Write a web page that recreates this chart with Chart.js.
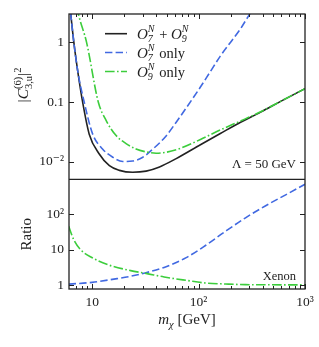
<!DOCTYPE html>
<html>
<head>
<meta charset="utf-8">
<script src="https://cdn.jsdelivr.net/npm/chart.js@4.4.1/dist/chart.umd.min.js"></script>
<style>
  html, body { margin: 0; padding: 0; background: #fff; }
  #wrap { width: 319px; height: 347px; }
</style>
</head>
<body>
<div id="wrap"><canvas id="chart" width="319" height="347"></canvas></div>
<script>
// |C_{3,u}^{(6)}|^2 versus dark matter mass, Lambda = 50 GeV (upper panel)
const massCombined = [6.0, 6.3, 6.72, 7.33, 8.12, 9.37, 11.6, 14.5, 18.0, 24.0, 32.1, 42.9, 61.6, 104, 160, 248, 383, 590, 1000];
const coefCombined = [7.1, 2.88, 1.0, 0.316, 0.1, 0.0288, 0.0135, 0.0085, 0.0071, 0.0066, 0.0069, 0.0081, 0.0112, 0.0191, 0.0295, 0.0457, 0.0676, 0.1023, 0.1675];

const massO7 = [6.0, 6.3, 6.72, 7.33, 8.4, 10.1, 12.5, 15.6, 19.4, 24.0, 29.9, 37.2, 49.5, 61.6, 76.5, 104, 129, 160, 199, 248, 296, 400, 1000];
const coefO7 = [7.1, 2.88, 1.0, 0.32, 0.1, 0.0288, 0.0162, 0.0118, 0.0100, 0.0102, 0.0118, 0.0162, 0.0269, 0.0457, 0.0794, 0.178, 0.324, 0.589, 1.0, 1.70, 2.82, 6.3, 100];

const massO9 = [6.0, 6.5, 7.0, 7.45, 8.85, 11.4, 13.5, 16.7, 20.8, 25.8, 32.1, 39.9, 49.5, 67.1, 104, 160, 248, 383, 590, 1000];
const coefO9 = [25, 8.7, 4.8, 2.88, 1.0, 0.1, 0.049, 0.0275, 0.020, 0.0162, 0.0145, 0.0138, 0.0143, 0.0166, 0.0234, 0.0339, 0.0479, 0.0684, 0.1023, 0.1675];

// Ratio panel (Xenon)
const massRatioO7 = [6.0, 10, 16, 23, 32, 47.4, 76.5, 116, 179, 276, 427, 658, 1000];
const ratioO7 = [1.07, 1.2, 1.48, 1.78, 2.25, 3.16, 5.96, 13.1, 32.9, 78.9, 173, 350, 692];

const massRatioO9 = [6.0, 6.71, 7.78, 10, 13.9, 23, 32, 47.4, 78.7, 116, 179, 276, 1000];
const ratioO9 = [46, 19, 10, 5.9, 3.8, 2.57, 2.15, 1.7, 1.35, 1.15, 1.08, 1.035, 1.02];

// ticks
const xTickValues = [10, 100, 1000];
const xTickLabels = ['10', '10²', '10³'];
const topTickValues = [0.01, 0.1, 1];
const topTickLabels = ['10⁻²', '0.1', '1'];
const ratioTickValues = [1, 10, 100];
const ratioTickLabels = ['1', '10', '10²'];

const INK = '#222';
const BLUE = '#4169e1';
const GREEN = '#3ccd3c';
const SERIF = '"Liberation Serif", "DejaVu Serif", serif';

function points(ms, vs) {
    return ms.map((m, i) => ({ x: m, y: vs[i] }));
}

function tickLabel(values, labels) {
    return function(value) {
        const i = values.indexOf(value);
        return i >= 0 ? labels[i] : '';
    };
}

// draw a run of text pieces; pieces with sup/sub are stacked at the same x
function drawRun(ctx, items, x, y, dry) {
    let cx = x;
    for (const it of items) {
        if (it.sup !== undefined || it.sub !== undefined) {
            ctx.font = it.f;
            let w = 0;
            if (it.sup) {
                w = Math.max(w, ctx.measureText(it.sup).width);
                if (!dry) ctx.fillText(it.sup, cx, y - it.up);
            }
            if (it.sub) {
                w = Math.max(w, ctx.measureText(it.sub).width);
                if (!dry) ctx.fillText(it.sub, cx, y + it.down);
            }
            cx += w + (it.after || 0);
        } else {
            ctx.font = it.f;
            if (!dry) ctx.fillText(it.t, cx, y);
            cx += ctx.measureText(it.t).width;
        }
    }
    return cx - x;
}

const framePlugin = {
    id: 'frame',
    afterDatasetsDraw(chart) {
        const ctx = chart.ctx;
        const a = chart.chartArea;
        const xs = chart.scales.x, yt = chart.scales.yTop, yb = chart.scales.yBot;
        ctx.save();
        ctx.strokeStyle = INK;
        ctx.lineWidth = 1;
        ctx.beginPath();
        for (let d = 1; d <= 1000; d *= 10) {
            for (let k = 1; k < 10; k++) {
                const v = d * k;
                if (v < xs.min || v > xs.max) continue;
                const px = Math.round(xs.getPixelForValue(v)) + 0.5;
                const len = k === 1 ? 5 : 3;
                ctx.moveTo(px, a.bottom); ctx.lineTo(px, a.bottom - len);
                ctx.moveTo(px, a.top); ctx.lineTo(px, a.top + len);
            }
        }
        for (const v of topTickValues) {
            const py = Math.round(yt.getPixelForValue(v)) + 0.5;
            ctx.moveTo(a.left, py); ctx.lineTo(a.left + 5, py);
            ctx.moveTo(a.right, py); ctx.lineTo(a.right - 5, py);
        }
        for (const v of ratioTickValues) {
            const py = Math.round(yb.getPixelForValue(v)) + 0.5;
            ctx.moveTo(a.left, py); ctx.lineTo(a.left + 5, py);
            ctx.moveTo(a.right, py); ctx.lineTo(a.right - 5, py);
        }
        ctx.stroke();

        ctx.lineWidth = 1.3;
        ctx.strokeRect(a.left, a.top, a.right - a.left, a.bottom - a.top);
        ctx.beginPath();
        ctx.moveTo(a.left, yt.bottom);
        ctx.lineTo(a.right, yt.bottom);
        ctx.stroke();
        ctx.restore();
    }
};

const textPlugin = {
    id: 'texts',
    afterDraw(chart) {
        const ctx = chart.ctx;
        const a = chart.chartArea;
        const yt = chart.scales.yTop, yb = chart.scales.yBot;
        const big = 'italic 15px ' + SERIF;
        const rom = '14.5px ' + SERIF;
        const scr = 'italic 10px ' + SERIF;
        const scrRom = '10.5px ' + SERIF;
        ctx.save();
        ctx.fillStyle = INK;
        ctx.textBaseline = 'alphabetic';
        ctx.textAlign = 'left';

        // legend
        const rows = [
            { color: INK, dash: [], y: 33.7, items: [
                { t: 'O', f: big }, { sup: 'N', sub: '7', f: scr, up: 6.5, down: 3, after: 1 },
                { t: ' + ', f: rom },
                { t: 'O', f: big }, { sup: 'N', sub: '9', f: scr, up: 6.5, down: 3 } ] },
            { color: BLUE, dash: [7.4, 3.2], y: 52.5, items: [
                { t: 'O', f: big }, { sup: 'N', sub: '7', f: scr, up: 6.5, down: 3, after: 1 },
                { t: ' only', f: rom } ] },
            { color: GREEN, dash: [9.6, 2.4, 1.6, 2.4], y: 71.5, items: [
                { t: 'O', f: big }, { sup: 'N', sub: '9', f: scr, up: 6.5, down: 3, after: 1 },
                { t: ' only', f: rom } ] }
        ];
        for (const r of rows) {
            ctx.save();
            ctx.strokeStyle = r.color;
            ctx.lineWidth = 1.6;
            ctx.setLineDash(r.dash);
            ctx.beginPath();
            ctx.moveTo(105, r.y);
            ctx.lineTo(127, r.y);
            ctx.stroke();
            ctx.restore();
            drawRun(ctx, r.items, 137, r.y + 5);
        }

        // annotations
        ctx.textAlign = 'right';
        ctx.font = '13px ' + SERIF;
        ctx.fillText('Λ = 50 GeV', a.right - 9, yt.bottom - 11.5);
        ctx.font = '12.5px ' + SERIF;
        ctx.fillText('Xenon', a.right - 9, a.bottom - 9.5);
        ctx.textAlign = 'left';

        // x title
        const xItems = [
            { t: 'm', f: 'italic 15px ' + SERIF },
            { sub: 'χ', f: 'italic 10.5px ' + SERIF, down: 3.5 },
            { t: ' [GeV]', f: '15px ' + SERIF }
        ];
        const xw = drawRun(ctx, xItems, 0, 0, true);
        drawRun(ctx, xItems, (a.left + a.right) / 2 - xw / 2, 324);

        // y title, upper panel
        const yItems = [
            { t: '|', f: '15.5px ' + SERIF },
            { t: 'C', f: 'italic 15.5px ' + SERIF },
            { sup: '(6)', sub: '3,u', f: scrRom, up: 7.5, down: 4 },
            { t: '|', f: '15.5px ' + SERIF },
            { sup: '2', f: scrRom, up: 7.5 }
        ];
        const yw = drawRun(ctx, yItems, 0, 0, true);
        ctx.save();
        ctx.translate(28, 85);
        ctx.rotate(-Math.PI / 2);
        drawRun(ctx, yItems, -yw / 2, 0);
        ctx.restore();

        // y title, ratio panel
        ctx.save();
        ctx.font = '15px ' + SERIF;
        ctx.translate(31, (yb.top + yb.bottom) / 2);
        ctx.rotate(-Math.PI / 2);
        ctx.textAlign = 'center';
        ctx.fillText('Ratio', 0, 0);
        ctx.restore();

        ctx.restore();
    }
};

const tickFont = { family: SERIF, size: 13.5 };

const chartConfig = {
    type: 'line',
    data: {
        datasets: [
            { label: 'O9 only', data: points(massO9, coefO9), yAxisID: 'yTop',
              borderColor: GREEN, borderWidth: 1.6, borderDash: [9.6, 2.4, 1.6, 2.4] },
            { label: 'O7 only', data: points(massO7, coefO7), yAxisID: 'yTop',
              borderColor: BLUE, borderWidth: 1.6, borderDash: [7.4, 3.2] },
            { label: 'O7 + O9', data: points(massCombined, coefCombined), yAxisID: 'yTop',
              borderColor: INK, borderWidth: 1.6 },
            { label: 'ratio O9', data: points(massRatioO9, ratioO9), yAxisID: 'yBot',
              borderColor: GREEN, borderWidth: 1.6, borderDash: [9.6, 2.4, 1.6, 2.4] },
            { label: 'ratio O7', data: points(massRatioO7, ratioO7), yAxisID: 'yBot',
              borderColor: BLUE, borderWidth: 1.6, borderDash: [7.4, 3.2] }
        ]
    },
    options: {
        responsive: false,
        animation: false,
        devicePixelRatio: 1,
        layout: { padding: { left: 0, top: 14, right: 14, bottom: 0 } },
        elements: {
            point: { radius: 0 },
            line: { cubicInterpolationMode: 'monotone', fill: false }
        },
        plugins: {
            legend: { display: false },
            tooltip: { enabled: false }
        },
        scales: {
            x: {
                type: 'logarithmic',
                position: 'bottom',
                min: 6.05,
                max: 1000,
                grid: { display: false, drawTicks: false },
                border: { display: false },
                afterBuildTicks: function(s) { s.ticks = xTickValues.map(v => ({ value: v })); },
                afterFit: function(s) { s.height = 58; },
                ticks: {
                    autoSkip: false, maxRotation: 0, padding: 5,
                    color: INK, font: tickFont,
                    callback: tickLabel(xTickValues, xTickLabels)
                }
            },
            yBot: {
                type: 'logarithmic',
                position: 'left',
                stack: 'panels',
                stackWeight: 1,
                min: 0.78,
                max: 950,
                grid: { display: false, drawTicks: false },
                border: { display: false },
                afterBuildTicks: function(s) { s.ticks = ratioTickValues.map(v => ({ value: v })); },
                afterFit: function(s) { s.width = 69; },
                ticks: {
                    autoSkip: false, padding: 5,
                    color: INK, font: tickFont,
                    callback: tickLabel(ratioTickValues, ratioTickLabels)
                }
            },
            yTop: {
                type: 'logarithmic',
                position: 'left',
                stack: 'panels',
                stackWeight: 1.51,
                min: 0.005,
                max: 3,
                grid: { display: false, drawTicks: false },
                border: { display: false },
                afterBuildTicks: function(s) { s.ticks = topTickValues.map(v => ({ value: v })); },
                afterFit: function(s) { s.width = 69; },
                ticks: {
                    autoSkip: false, padding: 5,
                    color: INK, font: tickFont,
                    callback: tickLabel(topTickValues, topTickLabels)
                }
            }
        }
    },
    plugins: [framePlugin, textPlugin]
};

new Chart(document.getElementById('chart').getContext('2d'), chartConfig);
</script>
</body>
</html>
